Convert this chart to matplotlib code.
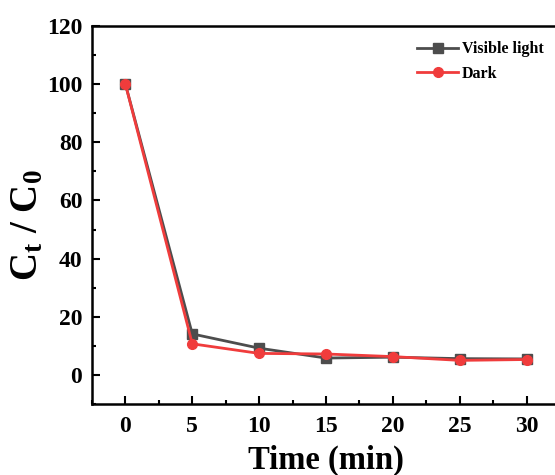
import numpy as np
import matplotlib
matplotlib.use('Agg')
import matplotlib.pyplot as plt
from matplotlib.ticker import MultipleLocator

plt.rcParams['font.family'] = 'Liberation Serif'
plt.rcParams['font.weight'] = 'bold'
plt.rcParams['mathtext.fontset'] = 'custom'
plt.rcParams['mathtext.rm'] = 'Liberation Serif:bold'
plt.rcParams['mathtext.it'] = 'Liberation Serif:bold'
plt.rcParams['mathtext.bf'] = 'Liberation Serif:bold'

time = [0, 5, 10, 15, 20, 25, 30]
visible = [100, 14.1, 9.2, 5.8, 6.1, 5.6, 5.5]
dark = [100, 10.7, 7.4, 7.2, 6.3, 5.0, 5.3]

fig = plt.figure(figsize=(5.55, 4.75), dpi=100)
ax = fig.add_axes([92 / 555, 1 - 404 / 475, (560 - 92) / 555, (404 - 26) / 475])

ax.plot(time, visible, color='#4d4d4d', marker='s', markersize=6.5, lw=2, label='Visible light')
ax.plot(time, dark, color='#f03c3c', marker='o', markersize=7, lw=2, label='Dark')

ax.set_xlim(-2.5, 32.5)
ax.set_ylim(-10, 120)
ax.xaxis.set_major_locator(MultipleLocator(5))
ax.xaxis.set_minor_locator(MultipleLocator(2.5))
ax.yaxis.set_major_locator(MultipleLocator(20))
ax.yaxis.set_minor_locator(MultipleLocator(10))
ax.tick_params(which='both', direction='in', width=1.5, labelsize=17)
ax.tick_params(which='major', length=6)
ax.tick_params(which='minor', length=3)
ax.tick_params(axis='x', pad=9)
ax.tick_params(axis='y', pad=7)
for s in ax.spines.values():
    s.set_linewidth(1.8)

ax.set_xlabel('Time (min)', fontsize=23.5, fontweight='bold', labelpad=5)
ax.set_ylabel(r'$\mathbf{C_t}$ / $\mathbf{C_0}$', fontsize=28, fontweight='bold')
ax.yaxis.set_label_coords(-0.097, 0.474)

ax.legend(loc='upper right', bbox_to_anchor=(0.995, 0.998), frameon=False,
          prop={'weight': 'bold', 'size': 11.5}, handlelength=2.6, labelspacing=0.55,
          handletextpad=0.2)

fig.savefig('out.png', dpi=100)
